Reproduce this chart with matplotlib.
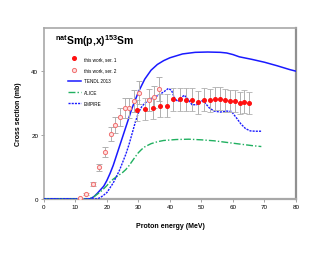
import matplotlib
matplotlib.use("Agg")
import matplotlib.pyplot as plt
from matplotlib.lines import Line2D

plt.rcParams['font.family'] = ['Liberation Sans', 'DejaVu Sans']
plt.rcParams['mathtext.fontset'] = 'custom'
plt.rcParams['mathtext.rm'] = 'Liberation Sans'
plt.rcParams['mathtext.bf'] = 'Liberation Sans:bold'

# Experimental data
s1_x = [29.4, 32.2, 34.6, 36.9, 39.1, 41.1, 43.3, 45.2, 47.0, 48.9, 50.9, 52.6, 54.3, 55.9, 57.6, 59.1, 60.6, 62.2, 63.6, 65.1]
s1_y = [27.7, 28.2, 28.4, 29.2, 29.2, 31.2, 31.2, 31.1, 31.0, 30.2, 31.1, 30.9, 31.3, 31.3, 30.9, 30.7, 30.6, 30.1, 30.5, 30.0]
s1_e = [3.3, 3.4, 3.4, 3.5, 3.5, 3.6, 3.6, 3.6, 3.6, 3.5, 3.6, 3.6, 3.6, 3.6, 3.6, 3.5, 3.5, 3.5, 3.5, 3.4]

s2_x = [11.3, 13.5, 15.6, 17.6, 19.5, 21.2, 22.7, 24.2, 25.7, 27.1, 28.7, 30.3, 33.2, 34.8, 36.4]
s2_y = [0.3, 1.5, 4.7, 9.9, 14.7, 20.3, 23.1, 25.6, 28.5, 28.5, 30.6, 33.2, 31.0, 32.0, 34.4]
s2_e = [0.1, 0.3, 0.6, 1.1, 1.6, 2.2, 2.5, 2.8, 3.1, 3.1, 3.4, 3.6, 3.4, 3.5, 3.8]

# Model curves
tendl_x = [0, 14.5, 15, 16, 17, 18, 19, 20, 21, 22, 23, 24, 25, 26, 28, 30, 32, 34, 36, 38, 40, 44, 48, 52, 56, 58, 60, 62, 66, 70, 74, 78, 80]
tendl_y = [0, 0, 0.2, 0.8, 1.8, 2.9, 4.0, 5.8, 8.0, 10.5, 13.5, 16.5, 19.5, 22.5, 28.5, 33.5, 37.5, 40.3, 42.1, 43.3, 44.2, 45.4, 45.9, 46.0, 45.9, 45.7, 45.2, 44.5, 43.7, 42.8, 41.7, 40.5, 40.0]

alice_x = [0, 14, 15, 16, 17, 18, 19, 20, 21, 22, 23, 24, 25, 26, 27, 28, 29, 30, 31, 32, 34, 36, 38, 42, 46, 50, 54, 58, 62, 66, 69]
alice_y = [0, 0, 0.3, 0.8, 1.5, 2.3, 3.2, 4.2, 5.3, 6.2, 6.9, 7.6, 8.3, 9.2, 10.4, 11.8, 13.2, 14.5, 15.5, 16.3, 17.3, 17.9, 18.3, 18.6, 18.7, 18.5, 18.2, 17.7, 17.2, 16.7, 16.4]

empire_x = [0, 17, 18, 19, 20, 21, 22, 23, 24, 25, 26, 27, 28, 29, 30, 31, 32, 34, 36, 38, 39.5, 40.5, 41.5, 42.5, 43.5, 44.5, 45.5, 47, 48.5, 50, 51, 52.5, 54, 56, 58, 59.5, 61, 62.5, 64, 65.5, 67, 69]
empire_y = [0, 0, 0.5, 1.2, 2.0, 3.5, 5.0, 7.0, 9.0, 11.5, 14.0, 17.0, 20.5, 24.0, 27.0, 28.8, 30.0, 31.2, 32.3, 33.5, 34.6, 34.0, 31.5, 30.5, 31.5, 32.5, 31.5, 29.5, 29.5, 30.7, 30.2, 28.5, 27.5, 27.2, 27.5, 27.4, 25.5, 23.5, 22.0, 21.3, 21.2, 21.2]

labels = ['this work, ser. 1', 'this work, ser. 2', 'TENDL 2013', 'ALICE', 'EMPIRE']
xticks = [0, 10, 20, 30, 40, 50, 60, 70, 80]
yticks = [0, 20, 40]

fig = plt.figure(figsize=(3.3, 2.55), dpi=100)
ax = fig.add_axes([0.133, 0.216, 0.764, 0.67])

ax.errorbar(s1_x, s1_y, yerr=s1_e, fmt='o', ms=2.6, mfc='#ff1010', mec='#ff1010',
            ecolor='#b0b0b0', elinewidth=0.7, capsize=2.0, capthick=0.6, zorder=4)
ax.errorbar(s2_x, s2_y, yerr=s2_e, fmt='o', ms=3.0, mfc='#ffe0e0', mec='#f07070', mew=0.7,
            ecolor='#b0b0b0', elinewidth=0.7, capsize=2.0, capthick=0.6, zorder=4)
h3, = ax.plot(tendl_x, tendl_y, '-', color='#1a1aff', lw=1.1, zorder=3)
h4, = ax.plot(alice_x, alice_y, color='#20b060', lw=1.0, dashes=(5, 1.5, 1, 1.5), zorder=3)
h5, = ax.plot(empire_x, empire_y, color='#1a1aff', lw=1.0, dashes=(1.5, 0.8), zorder=3)

h1 = Line2D([], [], ls='none', marker='o', ms=2.6, mfc='#ff1010', mec='#ff1010')
h2 = Line2D([], [], ls='none', marker='o', ms=3.0, mfc='#ffe0e0', mec='#f07070', mew=0.7)

ax.set_xlim(0, 80)
ax.set_ylim(0, 53.5)
ax.set_xticks(xticks)
ax.set_yticks(yticks)
ax.tick_params(labelsize=4.5, length=2, width=0.5, color='#808080', pad=2)
for s in ax.spines.values():
    s.set_color('#a8a8a8')
    s.set_linewidth(1.2)
ax.spines['right'].set_color('#909090')
ax.spines['right'].set_linewidth(1.6)
ax.spines['bottom'].set_linewidth(1.6)

ax.set_xlabel('Proton energy (MeV)', fontsize=5, fontweight='bold', labelpad=9)
ax.set_ylabel('Cross section (mb)', fontsize=5, fontweight='bold', labelpad=7)

ax.text(0.044, 0.93, r'$^{\mathbf{nat}}$Sm(p,x)$^{\mathbf{153}}$Sm', transform=ax.transAxes,
        fontsize=7.5, fontweight='bold', va='center', ha='left')

ax.legend([h1, h2, h3, h4, h5], labels,
          loc='upper left', bbox_to_anchor=(0.085, 0.85), fontsize=3.3, frameon=False,
          handlelength=3.0, labelspacing=1.35, handletextpad=0.5, borderpad=0)

fig.savefig('out.png', dpi=100)
